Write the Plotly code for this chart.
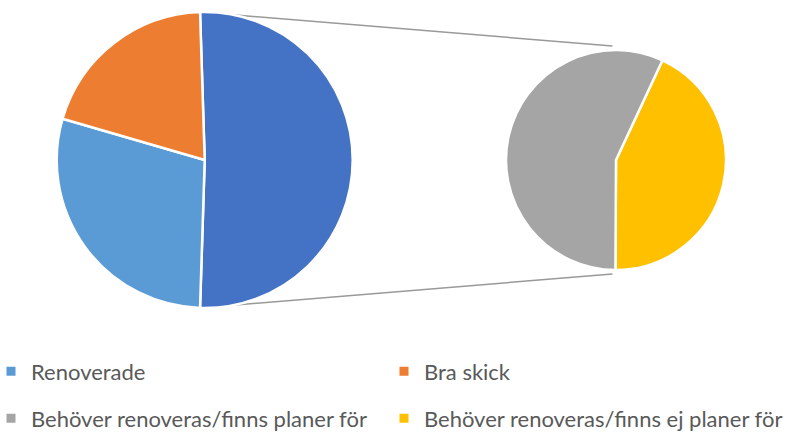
import math
import plotly.graph_objects as go

# Shares of the housing stock by condition (percent)
categories = ["Renoverade", "Bra skick",
              "Behöver renoveras/finns planer för",
              "Behöver renoveras/finns ej planer för"]
values = [29, 20, 29, 22]
colors = ["#5B9BD5", "#ED7D31", "#A5A5A5", "#FFC000"]
other_color = "#4472C4"

W, H = 789, 432

# Pie geometry in pixels
C1, R1 = (204.7, 160.0), 148.0      # main pie
C2, R2 = (616.0, 160.0), 110.0      # secondary pie
SECOND_ROTATION = 25

def px_to_paper(x, y):
    return x / W, 1 - y / H

def domain(c, r):
    x0, y1 = px_to_paper(c[0] - r, c[1] - r)
    x1, y0 = px_to_paper(c[0] + r, c[1] + r)
    return dict(x=[x0, x1], y=[y0, y1])

main_vals = values[:2]
sub_vals = values[2:]
other = sum(sub_vals)
total = sum(main_vals) + other
other_angle = 360.0 * other / total
main_rotation = 90 - other_angle / 2

fig = go.Figure()

fig.add_trace(go.Pie(
    values=[other] + main_vals,
    labels=["Övrigt"] + categories[:2],
    marker=dict(colors=[other_color] + colors[:2], line=dict(color="white", width=2.5)),
    sort=False, direction="clockwise", rotation=main_rotation,
    textinfo="none", hoverinfo="skip", showlegend=False,
    domain=domain(C1, R1),
))

fig.add_trace(go.Pie(
    values=[sub_vals[1], sub_vals[0]],
    labels=[categories[3], categories[2]],
    marker=dict(colors=[colors[3], colors[2]], line=dict(color="white", width=2.5)),
    sort=False, direction="clockwise", rotation=SECOND_ROTATION,
    textinfo="none", hoverinfo="skip", showlegend=False,
    domain=domain(C2, R2),
))

# Connector lines from the "other" slice edges to the secondary pie
for a in (main_rotation, main_rotation + other_angle):
    t = math.radians(a)
    sx, sy = math.sin(t), -math.cos(t)
    x0, y0 = px_to_paper(C1[0] + R1 * sx, C1[1] + R1 * sy)
    x1, y1 = px_to_paper(C2[0] + (R2 + 4) * sx, C2[1] + (R2 + 4) * sy)
    fig.add_shape(type="line", xref="paper", yref="paper",
                  x0=x0, y0=y0, x1=x1, y1=y1, layer="below",
                  line=dict(color="#999999", width=1.5))

# One legend per entry, laid out as a 2x2 grid
legend_names = ["legend", "legend2", "legend3", "legend4"]
legend_pos = [(-9.0, 371.5), (384.0, 371.5), (-9.0, 418.5), (384.0, 418.5)]

legend_style = dict(
    orientation="h", xanchor="left", yanchor="middle",
    xref="paper", yref="paper",
    font=dict(family="Lato", size=22, color="#595959"),
    itemwidth=30, bgcolor="rgba(0,0,0,0)", borderwidth=0,
)

layout_legends = {}
for i, (name, col) in enumerate(zip(categories, colors)):
    fig.add_trace(go.Scatter(
        x=[None], y=[None], mode="markers", name=name,
        marker=dict(symbol="square", size=9, color=col),
        legend=legend_names[i],
    ))
    lx, ly = legend_pos[i]
    layout_legends[legend_names[i]] = dict(x=lx / W, y=1 - ly / H, **legend_style)

fig.update_layout(
    width=W, height=H,
    margin=dict(l=0, r=0, t=0, b=0, autoexpand=False),
    paper_bgcolor="white", plot_bgcolor="white",
    xaxis=dict(visible=False), yaxis=dict(visible=False),
    **layout_legends,
)

fig.write_html("out.html")
